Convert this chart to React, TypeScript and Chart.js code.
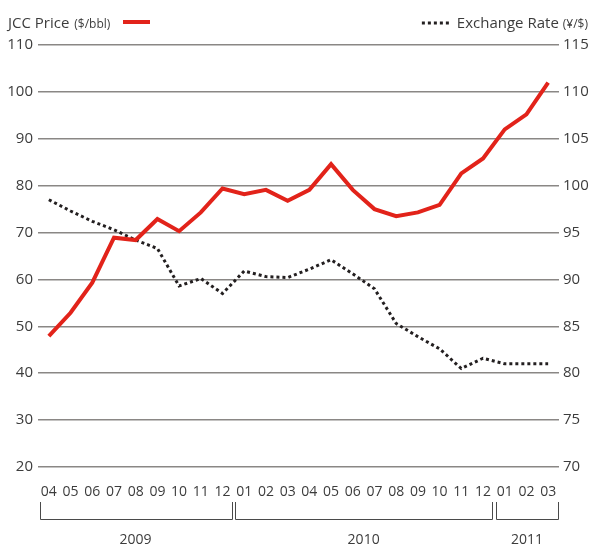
import React, { useEffect, useRef } from "react";
import { Chart, registerables } from "chart.js";

Chart.register(...registerables);

const monthLabels = [
  "04", "05", "06", "07", "08", "09", "10", "11", "12",
  "01", "02", "03", "04", "05", "06", "07", "08", "09", "10", "11", "12",
  "01", "02", "03",
];
const yearLabels = ["2009", "2010", "2011"];
const yearCounts = [9, 12, 3];

const jccPrice = [
  47.9, 52.9, 59.3, 68.9, 68.4, 72.9, 70.3, 74.3, 79.4,
  78.2, 79.1, 76.8, 79.1, 84.6, 79.1, 75.0, 73.5, 74.3, 75.9, 82.6, 85.8,
  92.0, 95.2, 102.0,
];
const exchangeRate = [
  98.5, 97.3, 96.2, 95.3, 94.2, 93.3, 89.3, 90.1, 88.5,
  90.9, 90.3, 90.2, 91.1, 92.1, 90.6, 89.0, 85.3, 83.9, 82.6, 80.5, 81.6,
  81.0, 81.0, 81.0,
];

const FONT = "'Open Sans', 'Noto Sans', sans-serif";
const TEXT = "#3c3c3c";
const RED = "#e2231a";
const DOT = "#231f20";

const overlayPlugin = {
  id: "overlay",
  afterDraw(chart: any) {
    const ctx = chart.ctx as CanvasRenderingContext2D;
    const xs = chart.scales.x;
    const half = (xs.getPixelForValue(1) - xs.getPixelForValue(0)) / 2;
    ctx.save();
    // year brackets
    ctx.strokeStyle = "#4a4a4a";
    ctx.lineWidth = 1;
    ctx.fillStyle = TEXT;
    ctx.font = `14px ${FONT}`;
    ctx.textAlign = "center";
    ctx.textBaseline = "middle";
    let idx = 0;
    const yTop = 502;
    const yBot = 519;
    yearCounts.forEach((n, i) => {
      const x0 = xs.getPixelForValue(idx) - half + (i === 0 ? 1.5 : 1.7);
      const x1 = xs.getPixelForValue(idx + n - 1) + half - (i === yearCounts.length - 1 ? 0.5 : 1.7);
      ctx.beginPath();
      ctx.moveTo(Math.round(x0) + 0.5, yTop);
      ctx.lineTo(Math.round(x0) + 0.5, yBot + 0.5);
      ctx.lineTo(Math.round(x1) + 0.5, yBot + 0.5);
      ctx.lineTo(Math.round(x1) + 0.5, yTop);
      ctx.stroke();
      ctx.fillText(yearLabels[i], (x0 + x1) / 2, 540);
      idx += n;
    });

    // legends
    ctx.textBaseline = "alphabetic";
    ctx.textAlign = "left";
    ctx.font = `15px ${FONT}`;
    ctx.fillText("JCC Price", 8, 28);
    let w = ctx.measureText("JCC Price ").width;
    ctx.font = `12px ${FONT}`;
    ctx.fillText("($/bbl)", 8 + w + 1, 28);
    ctx.strokeStyle = RED;
    ctx.lineWidth = 4;
    ctx.beginPath();
    ctx.moveTo(123, 22);
    ctx.lineTo(150, 22);
    ctx.stroke();

    ctx.textAlign = "right";
    ctx.font = `12px ${FONT}`;
    ctx.fillText("(¥/$)", 588, 28);
    const w2 = ctx.measureText("(¥/$)").width;
    ctx.font = `15px ${FONT}`;
    ctx.fillText("Exchange Rate", 588 - w2 - 4, 28);
    const w3 = ctx.measureText("Exchange Rate").width;
    const lx1 = 588 - w2 - 4 - w3 - 8;
    ctx.strokeStyle = DOT;
    ctx.lineWidth = 3;
    ctx.setLineDash([3, 3]);
    ctx.beginPath();
    ctx.moveTo(lx1 - 27, 23);
    ctx.lineTo(lx1, 23);
    ctx.stroke();
    ctx.restore();
  },
};

export default function App() {
  const ref = useRef<HTMLCanvasElement | null>(null);
  useEffect(() => {
    if (!ref.current) return;
    const chart = new Chart(ref.current, {
      type: "line",
      data: {
        labels: monthLabels,
        datasets: [
          {
            label: "JCC Price ($/bbl)",
            data: jccPrice,
            yAxisID: "y",
            borderColor: RED,
            borderWidth: 4,
            pointRadius: 0,
            tension: 0,
            borderJoinStyle: "miter",
          },
          {
            label: "Exchange Rate (¥/$)",
            data: exchangeRate,
            yAxisID: "y1",
            borderColor: DOT,
            borderWidth: 3,
            borderDash: [3, 3],
            pointRadius: 0,
            tension: 0,
          },
        ],
      },
      options: {
        animation: false,
        responsive: false,
        maintainAspectRatio: false,
        layout: { padding: { top: 45, left: 0, right: 0, bottom: 0 } },
        plugins: { legend: { display: false }, tooltip: { enabled: false } },
        scales: {
          x: {
            type: "category",
            offset: true,
            grid: { display: false, drawTicks: false },
            border: { display: false },
            ticks: {
              color: TEXT,
              font: { family: FONT, size: 14 },
              padding: 17,
              autoSkip: false,
              maxRotation: 0,
            },
            afterFit: (s: any) => {
              s.height = 80;
            },
          },
          y: {
            position: "left",
            min: 20,
            max: 110,
            grid: { color: "#8a8785", lineWidth: 1.5, drawTicks: false },
            border: { display: false },
            ticks: {
              stepSize: 10,
              color: TEXT,
              font: { family: FONT, size: 15 },
              padding: 5,
            },
            afterFit: (s: any) => {
              s.width = 38;
            },
          },
          y1: {
            position: "right",
            min: 70,
            max: 115,
            grid: { display: false, drawTicks: false },
            border: { display: false },
            ticks: {
              stepSize: 5,
              color: TEXT,
              font: { family: FONT, size: 15 },
              padding: 4,
            },
            afterFit: (s: any) => {
              s.width = 34;
            },
          },
        },
      },
      plugins: [overlayPlugin],
    });
    return () => chart.destroy();
  }, []);
  return (
    <div style={{ position: "fixed", left: 0, top: 0, width: 593, height: 547, background: "#fff" }}>
      <canvas ref={ref} width={593} height={547} style={{ display: "block", width: 593, height: 547 }} />
    </div>
  );
}
